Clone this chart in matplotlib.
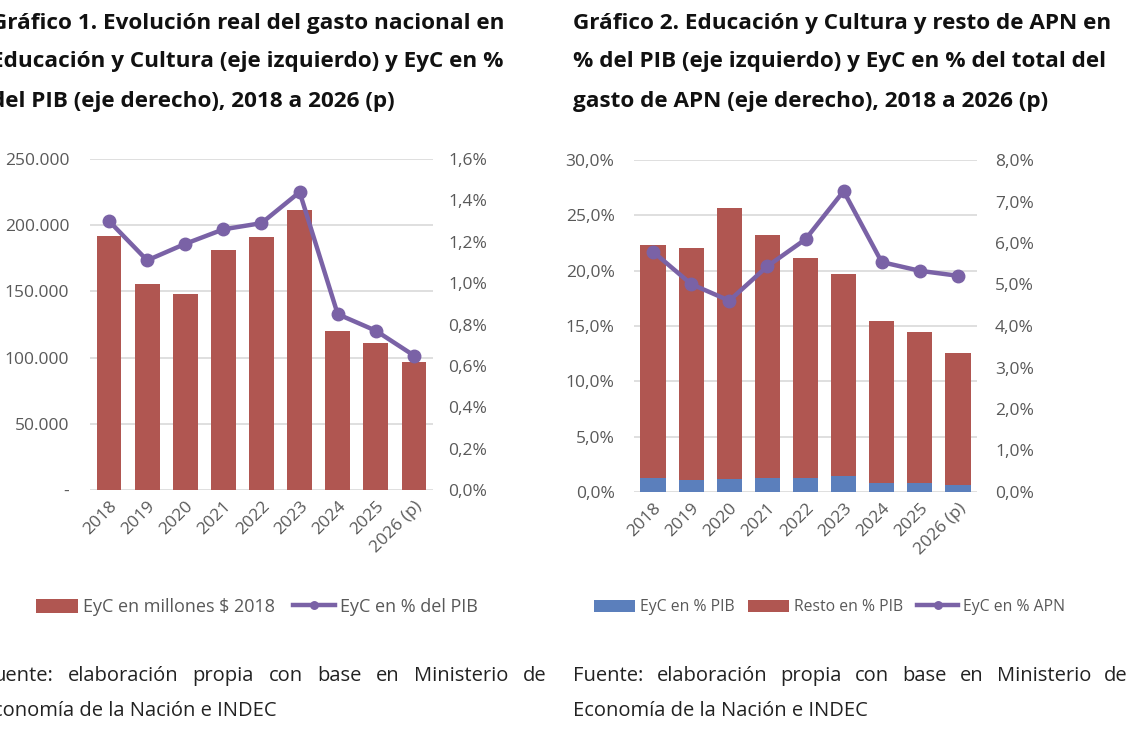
import numpy as np
import matplotlib.pyplot as plt
from matplotlib.ticker import FixedLocator

plt.rcParams['font.family'] = ['Open Sans', 'DejaVu Sans']

# datos
anios = ['2018', '2019', '2020', '2021', '2022', '2023', '2024', '2025', '2026 (p)']
eyc_millones = [191500, 155700, 148200, 181200, 191000, 211400, 120400, 111100, 96800]
eyc_pib = [1.30, 1.11, 1.19, 1.26, 1.29, 1.44, 0.85, 0.77, 0.65]
resto_pib = [21.00, 20.95, 24.51, 21.97, 19.83, 18.30, 14.62, 13.67, 11.87]
eyc_apn = [5.79, 5.01, 4.61, 5.44, 6.09, 7.25, 5.54, 5.33, 5.21]

rojo = '#B05651'
azul = '#5B7FBC'
violeta = '#7A62A6'
gris_txt = '#595959'
gris_grid = '#D9D9D9'

W, H = 1140, 741
fig = plt.figure(figsize=(W / 100, H / 100), dpi=100)


def caja(x0, y0, x1, y1):
    return [x0 / W, 1 - y1 / H, (x1 - x0) / W, (y1 - y0) / H]


def fmt_miles(v):
    if v == 0:
        return '-'
    return f'{int(v):,}'.replace(',', '.')


def fmt_pct(v):
    return f'{v:.1f}%'.replace('.', ',')


def estilo(ax):
    for s in ax.spines.values():
        s.set_visible(False)
    ax.tick_params(length=0, labelsize=12.5, colors=gris_txt)
    ax.grid(axis='y', color=gris_grid, lw=1.2)
    ax.set_axisbelow(True)
    ax.set_xlim(-0.5, len(anios) - 0.5)
    ax.set_xticks(np.arange(len(anios)))
    ax.set_xticklabels(anios, rotation=45, ha='right', va='top',
                       rotation_mode='anchor', fontsize=12.5, color=gris_txt)
    ax.tick_params(axis='x', pad=6)


x = np.arange(len(anios))

# ---- Gráfico 1 ----
ax1 = fig.add_axes(caja(90, 159, 433, 490))
estilo(ax1)
b1 = ax1.bar(x, eyc_millones, width=0.65, color=rojo, zorder=2,
             label='EyC en millones $ 2018')
ax1.set_ylim(0, 250000)
t1 = np.arange(0, 250001, 50000)
ax1.yaxis.set_major_locator(FixedLocator(t1))
ax1.set_yticklabels([fmt_miles(v) for v in t1])
ax1.tick_params(axis='y', pad=15)

ax1b = ax1.twinx()
for s in ax1b.spines.values():
    s.set_visible(False)
l1, = ax1b.plot(x, eyc_pib, color=violeta, lw=3.2, marker='o', ms=9,
                label='EyC en % del PIB', zorder=3)
ax1b.set_ylim(0, 1.6)
t1b = np.arange(0, 1.61, 0.2)
ax1b.yaxis.set_major_locator(FixedLocator(t1b))
ax1b.set_yticklabels([fmt_pct(v) for v in t1b])
ax1b.tick_params(length=0, labelsize=12.5, colors=gris_txt, pad=11)

fig.legend(handles=[b1, l1], loc='center left', bbox_to_anchor=(20 / W, 1 - 607 / H),
           ncol=2, frameon=False, fontsize=13, labelcolor=gris_txt,
           handlelength=2.3, handleheight=0.8, handletextpad=0.3,
           columnspacing=1.0, markerscale=0.6)

# ---- Gráfico 2 ----
ax2 = fig.add_axes(caja(634, 160, 977, 492))
estilo(ax2)
b2a = ax2.bar(x, eyc_pib, width=0.66, color=azul, zorder=2, label='EyC en % PIB')
b2b = ax2.bar(x, resto_pib, width=0.66, bottom=eyc_pib, color=rojo, zorder=2,
              label='Resto en % PIB')
ax2.set_ylim(0, 30)
t2 = np.arange(0, 30.1, 5)
ax2.yaxis.set_major_locator(FixedLocator(t2))
ax2.set_yticklabels([fmt_pct(v) for v in t2])
ax2.tick_params(axis='y', pad=14)

ax2b = ax2.twinx()
for s in ax2b.spines.values():
    s.set_visible(False)
l2, = ax2b.plot(x, eyc_apn, color=violeta, lw=3.2, marker='o', ms=9,
                label='EyC en % APN', zorder=3)
ax2b.set_ylim(0, 8)
t2b = np.arange(0, 8.1, 1)
ax2b.yaxis.set_major_locator(FixedLocator(t2b))
ax2b.set_yticklabels([fmt_pct(v) for v in t2b])
ax2b.tick_params(length=0, labelsize=12.5, colors=gris_txt, pad=13)

fig.legend(handles=[b2a, b2b, l2], loc='center left',
           bbox_to_anchor=(580 / W, 1 - 607 / H), ncol=3, frameon=False,
           fontsize=11.3, labelcolor=gris_txt, handlelength=2.6,
           handleheight=0.8, handletextpad=0.3, columnspacing=0.9,
           markerscale=0.6)

# ---- títulos ----
tit1 = ['Gráfico 1. Evolución real del gasto nacional en',
        'Educación y Cultura (eje izquierdo) y EyC en %',
        'del PIB (eje derecho), 2018 a 2026 (p)']
tit2 = ['Gráfico 2. Educación y Cultura y resto de APN en',
        '% del PIB (eje izquierdo) y EyC en % del total del',
        'gasto de APN (eje derecho), 2018 a 2026 (p)']
for i, (a, b) in enumerate(zip(tit1, tit2)):
    yy = 1 - (23 + 39 * i) / H
    fig.text(-9 / W, yy, a, fontsize=16.2, fontweight='bold', color='#111111', va='center')
    fig.text(573 / W, yy, b, fontsize=16.2, fontweight='bold', color='#111111', va='center')


# ---- fuente (texto justificado) ----
def justificado(x0, x1, y, texto, size=14.5):
    palabras = texto.split()
    r = fig.canvas.get_renderer()
    objs = [fig.text(0, 1 - y / H, p, fontsize=size, color='#222222', va='baseline')
            for p in palabras]
    anchos = [o.get_window_extent(r).width for o in objs]
    hueco = (x1 - x0 - sum(anchos)) / (len(palabras) - 1)
    pos = x0
    for o, a in zip(objs, anchos):
        o.set_x(pos / W)
        pos += a + hueco


justificado(-7, 547, 681, 'uente: elaboración propia con base en Ministerio de')
justificado(573, 1128, 681, 'Fuente: elaboración propia con base en Ministerio de')
fig.text(-7 / W, 1 - 716 / H, 'conomía de la Nación e INDEC',
         fontsize=14.5, color='#222222', va='baseline')
fig.text(573 / W, 1 - 716 / H, 'Economía de la Nación e INDEC',
         fontsize=14.5, color='#222222', va='baseline')

fig.savefig('out.png', dpi=100)
